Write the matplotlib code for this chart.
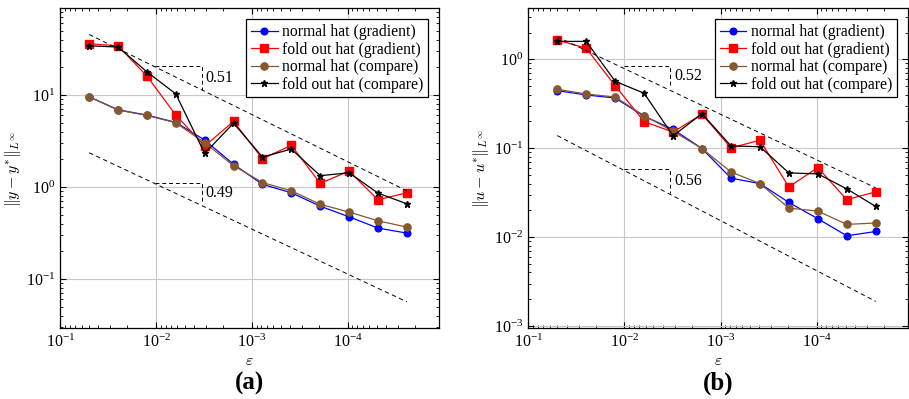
import matplotlib
matplotlib.use('Agg')
import matplotlib.pyplot as plt

plt.rcParams['font.family'] = ['Liberation Serif', 'DejaVu Serif']
plt.rcParams['mathtext.fontset'] = 'cm'

# epsilon values (halved each step)
eps = [5e-2, 2.5e-2, 1.25e-2, 6.25e-3, 3.125e-3, 1.5625e-3,
       7.8125e-4, 3.90625e-4, 1.953125e-4, 9.765625e-5, 4.8828125e-5, 2.44140625e-5]

# (a) ||y - y*||
y_normal_grad = [9.58, 6.92, 6.06, 5.05, 3.24, 1.77, 1.07, 0.867, 0.62, 0.475, 0.358, 0.316]
y_fold_grad = [36.1, 34.3, 16.1, 6.06, 2.79, 5.18, 2.03, 2.84, 1.10, 1.49, 0.728, 0.867]
y_normal_cmp = [9.58, 6.87, 6.01, 5.0, 3.03, 1.71, 1.12, 0.91, 0.65, 0.535, 0.43, 0.367]
y_fold_cmp = [34.3, 33.3, 17.9, 10.3, 2.32, 4.96, 2.12, 2.59, 1.33, 1.43, 0.86, 0.658]

# (b) ||u - u*||
u_normal_grad = [0.444, 0.397, 0.367, 0.229, 0.163, 0.099, 0.046, 0.040, 0.0245, 0.0161, 0.01035, 0.01156]
u_fold_grad = [1.65, 1.33, 0.505, 0.199, 0.152, 0.241, 0.1007, 0.123, 0.0367, 0.0605, 0.0264, 0.0323]
u_normal_cmp = [0.46, 0.407, 0.377, 0.232, 0.155, 0.099, 0.054, 0.040, 0.0212, 0.0196, 0.0139, 0.0144]
u_fold_cmp = [1.59, 1.59, 0.566, 0.415, 0.1375, 0.245, 0.106, 0.104, 0.0527, 0.0514, 0.0349, 0.0221]

# reference slope lines (endpoints at first/last eps)
ref_x = [eps[0], eps[-1]]
ref_a_upper = [45.6, 0.91]
ref_a_lower = [2.36, 0.0566]
ref_b_upper = [1.79, 0.0358]
ref_b_lower = [0.1386, 0.00189]

# slope triangles: x corners, y top/bottom, label
tri_x = [0.0102, 0.00337]
tri_a = [([20.5, 11.3], '0.51'), ([1.10, 0.665], '0.49')]
tri_b = [([0.841, 0.51], '0.52'), ([0.0585, 0.0315], '0.56')]

labels = ['normal hat (gradient)', 'fold out hat (gradient)',
          'normal hat (compare)', 'fold out hat (compare)']
colors = ['#0000ff', '#ff0000', '#85582e', '#000000']
markers = ['o', 's', 'o', '*']
msizes = [4.8, 5.6, 5.2, 4.5]

fig = plt.figure(figsize=(9.09, 3.99), dpi=100)
ax_a = fig.add_axes([0.0663, 0.177, 0.417, 0.802])
ax_b = fig.add_axes([0.5812, 0.177, 0.418, 0.802])


def draw(ax, series, refs, tris, ylim, ylabel):
    for vals, c, m, ms, lab in zip(series, colors, markers, msizes, labels):
        ax.plot(eps, vals, color=c, marker=m, markersize=ms, lw=0.9, label=lab)
    for r in refs:
        ax.plot(ref_x, r, color='k', lw=0.7, dashes=(4.5, 3.5))
    for (ys, txt) in tris:
        ax.plot([tri_x[0], tri_x[1], tri_x[1]], [ys[0], ys[0], ys[1]],
                color='k', lw=0.7, dashes=(4, 3))
        ymid = (ys[0] * ys[1]) ** 0.5
        ax.annotate(txt, (tri_x[1], ymid), xytext=(3, 0), textcoords='offset points',
                    va='center', ha='left', fontsize=11.5)
    ax.set_xscale('log')
    ax.set_yscale('log')
    ax.set_xlim(0.1, 1.12e-5)
    ax.set_ylim(*ylim)
    ax.grid(True, which='major', color='#c8c8c8', lw=0.8)
    ax.tick_params(which='both', direction='in', top=True, right=True, labelsize=11.5)
    ax.tick_params(which='major', length=4)
    ax.tick_params(which='minor', length=2.2)
    for s in ax.spines.values():
        s.set_linewidth(0.9)
    ax.set_xlabel(r'$\varepsilon$', fontsize=11.5, labelpad=2)
    ax.set_ylabel(ylabel, fontsize=11.5, labelpad=2)
    ax.legend(loc='upper right', fontsize=11.3, frameon=True, fancybox=False,
              edgecolor='k', framealpha=1, handlelength=1.7, handletextpad=0.3,
              labelspacing=0.1, borderpad=0.3, borderaxespad=0.7)
    ax.get_legend().get_frame().set_linewidth(0.9)


draw(ax_a, [y_normal_grad, y_fold_grad, y_normal_cmp, y_fold_cmp],
     [ref_a_upper, ref_a_lower], tri_a, (0.0291, 87.6),
     r'$\Vert y - y^{*}\Vert_{L^\infty}$')
draw(ax_b, [u_normal_grad, u_fold_grad, u_normal_cmp, u_fold_cmp],
     [ref_b_upper, ref_b_lower], tri_b, (9.4e-4, 3.74),
     r'$\Vert u - u^{*}\Vert_{L^\infty}$')

fig.text(0.275, 0.04, '(a)', fontsize=18, fontweight='bold', ha='center', va='center')
fig.text(0.79, 0.04, '(b)', fontsize=18, fontweight='bold', ha='center', va='center')

fig.savefig('out.png', dpi=100)
